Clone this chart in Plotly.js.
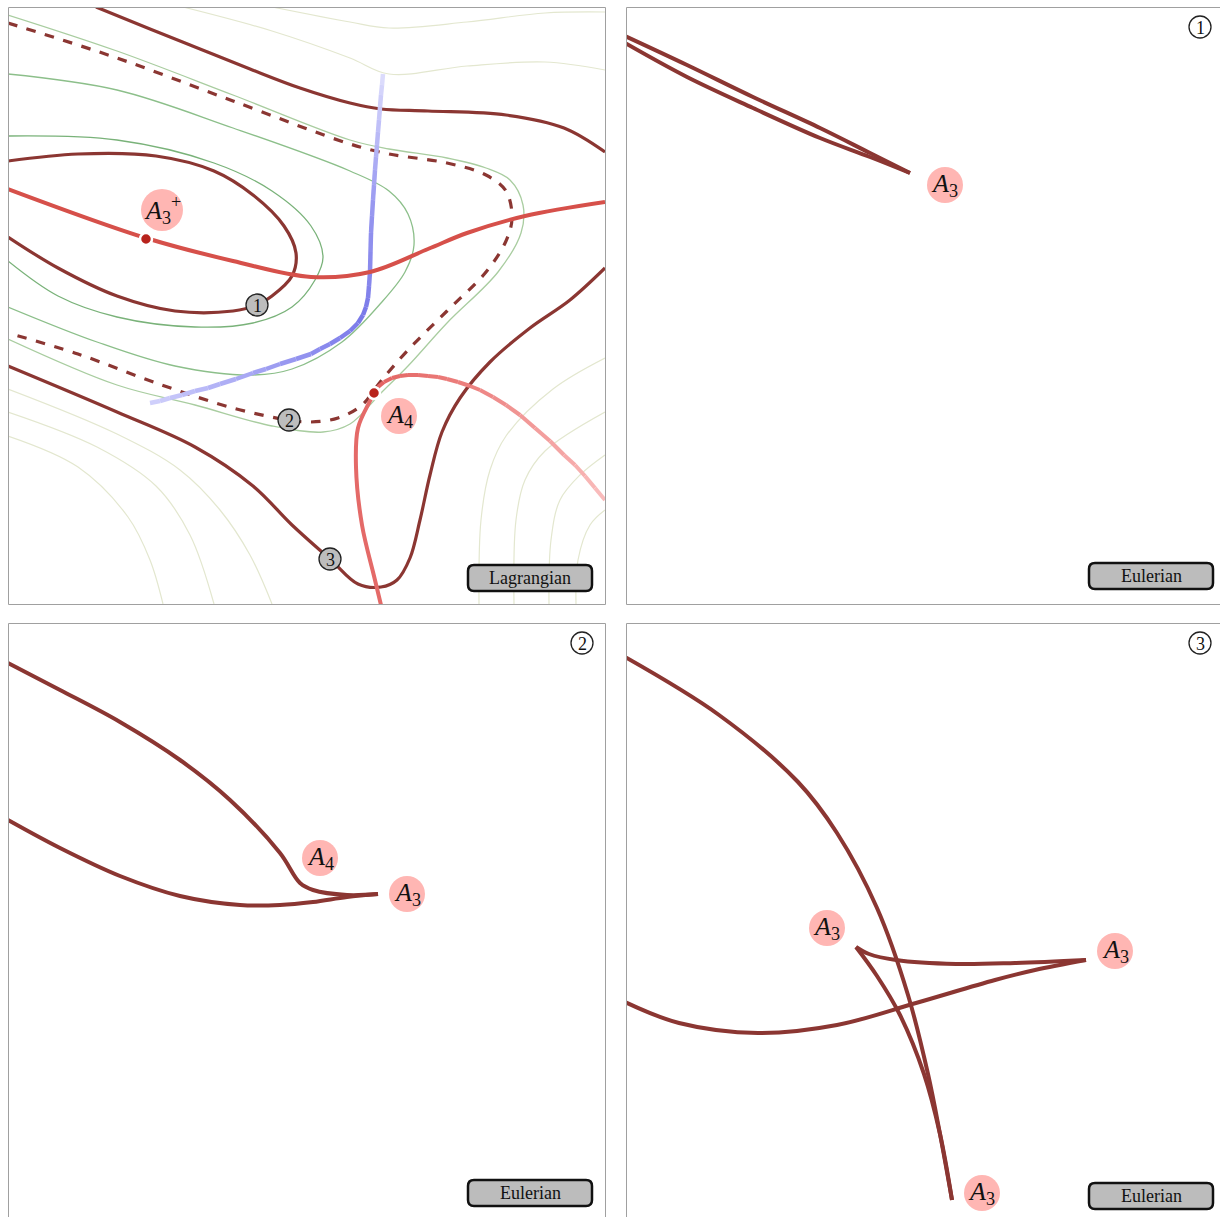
<!DOCTYPE html>
<html><head><meta charset="utf-8">
<script src="https://cdn.plot.ly/plotly-3.0.1.min.js"></script>
<style>html,body{margin:0;padding:0;background:#fff}</style>
</head><body><div id="chart" style="width:1220px;height:1217px"></div>
<script>
// ---- Panel 1 (Lagrangian) curves (x, y in panel pixel units) ----
const topSolidX = [96,150,200,250,300,350,381,428,506,564,605];
const topSolidY = [7,29,49,69,88,103,109,111,115,128,152];
const dashX = [8,117,233,350,389,447,486,506,512,506,486,447,408,381,362,338,311,288,233,156,78,8];
const dashY = [23,58,101,144,154,163,175,191,218,241,272,311,350,381,405,418,422,420,408,383,354,333];
const loopX = [8,78,156,214,253,284,296,292,272,257,233,175,117,58,8];
const loopY = [161,154,156,171,195,226,253,276,296,305,311,311,296,268,237];
const lowSolidX = [8,117,195,253,292,331,358,381,397,410,420,430,442,460,490,530,570,605];
const lowSolidY = [366,412,447,486,525,560,584,587,580,558,520,475,432,398,362,328,300,268];
const a3LineX = [8,146,233,311,370,428,467,525,605];
const a3LineY = [189,238,261,277,272,249,233,216,202];
const a4RightX = [374,378,384,392,400,408,418,428,438,447,458,470,480,493,506,520,535,550,564,575,585,595,605];
const a4RightY = [393,387,382,378,376,375,375,376,377,379,382,386,390,397,405,415,428,441,455,465,476,488,500];
const a4DownX = [374,370,358,356,362,374,381];
const a4DownY = [393,401,428,467,525,576,605];
const blueX = [383,382,381,380,379,378,377,376,375,374,373,372,371,370.5,370,369,368,366,363,358,350,340,330,320,311,296,280,266,253,236,220,208,195,182,170,160,150];
const blueY = [74,85,95,107,120,132,145,157,170,185,200,216,233,252,272,286,298,307,315,323,331,338,344,349,354,359,364,369,373,379,384,388,391,395,398,401,403];
const greenAX = [8,117,233,350,389,447,486,510,523,521,498,447,408,381,350,323,272,195,117,8];
const greenAY = [15,51,95,140,149,158,168,180,205,233,272,323,366,393,424,432,426,405,385,339];
const greenBX = [8,117,233,350,389,408,414,405,381,342,292,253,175,97,8];
const greenBY = [74,90,128,171,191,214,245,272,303,342,369,375,366,342,307];
const greenCX = [8,117,214,272,311,323,315,292,253,195,117,58,8];
const greenCY = [136,140,163,191,226,257,280,307,323,327,317,296,261];
const paleTop1X = [183,272,350,389,467,545,605];
const paleTop1Y = [7,31,58,74,66,62,70];
const paleTop2X = [272,350,389,467,545,605];
const paleTop2Y = [7,22,28,22,13,12];
const paleBL1X = [8,117,180,220,250,272];
const paleBL1Y = [389,434,470,510,555,604];
const paleBL2X = [8,97,156,190,214];
const paleBL2Y = [412,447,486,535,604];
const paleBL3X = [8,78,128,150,163];
const paleBL3Y = [436,467,517,560,604];
const paleBR1X = [479,481,490,506,553,605];
const paleBR1Y = [604,520,470,436,389,358];
const paleBR2X = [514,516,525,545,605];
const paleBR2Y = [604,520,480,451,412];
const paleBR3X = [549,551,560,580,605];
const paleBR3Y = [604,540,500,475,455];
const paleBR4X = [576,578,590,605];
const paleBR4Y = [604,560,525,510];
const dotX = [146,374];
const dotY = [239,393];
// ---- Panel 2 (Eulerian, caustic 1) ----
const e1UpperX = [625,687,753,820,870,910];
const e1UpperY = [36,65,97,128,153,173];
const e1LowerX = [625,687,753,820,870,910];
const e1LowerY = [43,77,108,138,157,173];
// ---- Panel 3 (Eulerian, caustic 2) ----
const e2UpperX = [8,60,120,180,230,280,300,313,347,378];
const e2UpperY = [663,690,722,760,800,853,883,890,895,894];
const e2LowerX = [8,60,120,180,240,280,313,347,378];
const e2LowerY = [820,848,876,896,905,905,902,897,894];
// ---- Panel 4 (Eulerian, caustic 3) ----
const e3BigX = [625,719,798,837,877,908,928,940,952];
const e3BigY = [657,715,782,833,908,995,1074,1134,1200];
const e3CuspDownX = [856,877,900,924,940,952];
const e3CuspDownY = [947,976,1015,1074,1134,1200];
const e3CuspRightX = [856,869,896,956,1015,1086];
const e3CuspRightY = [947,954,960,964,963,960];
const e3LowX = [625,679,758,837,916,995,1035,1086];
const e3LowY = [1002,1023,1033,1025,1003,980,970,960];
// ---- labels ----
const singLabels = [
  {ax:'1', x:162, y:210, r:21, text:'<i>A</i><sub>3</sub><sup>+</sup>'},
  {ax:'1', x:399, y:416, r:18, text:'<i>A</i><sub>4</sub>'},
  {ax:'2', x:945, y:185, r:18, text:'<i>A</i><sub>3</sub>'},
  {ax:'3', x:320, y:858, r:18, text:'<i>A</i><sub>4</sub>'},
  {ax:'3', x:407, y:894, r:18, text:'<i>A</i><sub>3</sub>'},
  {ax:'4', x:827, y:928, r:18, text:'<i>A</i><sub>3</sub>'},
  {ax:'4', x:1115, y:951, r:18, text:'<i>A</i><sub>3</sub>'},
  {ax:'4', x:982, y:1193, r:18, text:'<i>A</i><sub>3</sub>'}
];
const numMarks = [
  {ax:'1', x:257, y:305, n:'1', fill:'#bdbdbd'},
  {ax:'1', x:289, y:420, n:'2', fill:'#bdbdbd'},
  {ax:'1', x:330, y:559, n:'3', fill:'#bdbdbd'},
  {ax:'2', x:1200, y:27, n:'1', fill:'#ffffff'},
  {ax:'3', x:582, y:643, n:'2', fill:'#ffffff'},
  {ax:'4', x:1200, y:643, n:'3', fill:'#ffffff'}
];
const boxes = [
  {ax:'1', x0:468, x1:592, y0:565, y1:591, text:'Lagrangian'},
  {ax:'2', x0:1089, x1:1213, y0:563, y1:589, text:'Eulerian'},
  {ax:'3', x0:468, x1:592, y0:1180, y1:1206, text:'Eulerian'},
  {ax:'4', x0:1089, x1:1213, y0:1183, y1:1209, text:'Eulerian'}
];

const DARK = '#8b3632';
const SERIF = 'Liberation Serif, DejaVu Serif, serif';
const axMap = {'1':['x','y'],'2':['x2','y2'],'3':['x3','y3'],'4':['x4','y4']};
const traces = [];
function line(ax, X, Y, color, width, dash){
  traces.push({type:'scatter', mode:'lines', x:X, y:Y, xaxis:axMap[ax][0], yaxis:axMap[ax][1],
    line:{color:color, width:width, dash:dash||'solid', shape:'spline', smoothing:1},
    hoverinfo:'skip', showlegend:false, cliponaxis:true});
}
function mix(c0, c1, t){
  const a = c0.map((v,i)=>Math.round(v+(c1[i]-v)*t));
  return `rgb(${a[0]},${a[1]},${a[2]})`;
}
// curve with a colour gradient: one short piece per interval of read points
function gradLine(ax, X, Y, stops, width){
  const n = X.length - 1;
  for(let i=0;i<n;i++){
    const t = (i+0.5)/n;
    let k = 0; while(k < stops.length-2 && t > stops[k+1][0]) k++;
    const tt = (t - stops[k][0])/(stops[k+1][0]-stops[k][0]);
    const c = mix(stops[k][1], stops[k+1][1], Math.max(0,Math.min(1,tt)));
    traces.push({type:'scatter', mode:'lines', x:X.slice(i,i+2), y:Y.slice(i,i+2), xaxis:axMap[ax][0], yaxis:axMap[ax][1],
      line:{color:c, width:width, shape:'linear'}, hoverinfo:'skip', showlegend:false});
  }
}

// pale background contours
const PALE = '#e3e7cf';
[[paleTop1X,paleTop1Y],[paleTop2X,paleTop2Y],[paleBL1X,paleBL1Y],[paleBL2X,paleBL2Y],[paleBL3X,paleBL3Y],
 [paleBR1X,paleBR1Y],[paleBR2X,paleBR2Y],[paleBR3X,paleBR3Y],[paleBR4X,paleBR4Y]].forEach(p=>line('1',p[0],p[1],PALE,1.2));
// green contours
line('1', greenAX, greenAY, '#a9cda0', 1.3);
line('1', greenBX, greenBY, '#8cbf8a', 1.3);
line('1', greenCX, greenCY, '#79b279', 1.3);
// dark red level sets
line('1', topSolidX, topSolidY, DARK, 3.2);
line('1', dashX, dashY, DARK, 3.2, 'dash');
line('1', loopX, loopY, DARK, 3.2);
line('1', lowSolidX, lowSolidY, DARK, 3.2);
// blue curve with fading ends
gradLine('1', blueX, blueY, [[0,[222,222,253]],[0.3,[150,150,240]],[0.5,[120,120,232]],[0.65,[140,140,238]],[1,[210,210,252]]], 4.5);
// red singular curves
line('1', a3LineX, a3LineY, '#d6504a', 4);
line('1', a4DownX, a4DownY, '#e46a68', 4);
gradLine('1', a4RightX, a4RightY, [[0,[226,96,94]],[0.5,[236,128,126]],[1,[250,190,190]]], 4);
traces.push({type:'scatter', mode:'markers', x:dotX, y:dotY, xaxis:'x', yaxis:'y',
  marker:{color:'#b8231c', size:12, line:{color:'#ffffff', width:2.5}}, hoverinfo:'skip', showlegend:false});
// Eulerian caustics
line('2', e1UpperX, e1UpperY, DARK, 4);
line('2', e1LowerX, e1LowerY, DARK, 4);
line('3', e2UpperX, e2UpperY, DARK, 4);
line('3', e2LowerX, e2LowerY, DARK, 4);
line('4', e3BigX, e3BigY, DARK, 4);
line('4', e3CuspDownX, e3CuspDownY, DARK, 4);
line('4', e3CuspRightX, e3CuspRightY, DARK, 4);
line('4', e3LowX, e3LowY, DARK, 4);

// shapes & annotations
const shapes = [];
const annotations = [];
const W = 1220, H = 1217;
function px(x){return x/W;} function py(y){return 1-y/H;}
function frameLine(x0,y0,x1,y1){
  shapes.push({type:'line', xref:'paper', yref:'paper', x0:px(x0), y0:py(y0), x1:px(x1), y1:py(y1),
    line:{color:'#a0a0a0', width:1}, layer:'above'});
}
frameLine(8.5,7.5,605.5,7.5); frameLine(8.5,7.5,8.5,604.5); frameLine(605.5,7.5,605.5,604.5); frameLine(8.5,604.5,605.5,604.5);
frameLine(626.5,7.5,1220,7.5); frameLine(626.5,7.5,626.5,604.5); frameLine(626.5,604.5,1220,604.5);
frameLine(8.5,623.5,605.5,623.5); frameLine(8.5,623.5,8.5,1217); frameLine(605.5,623.5,605.5,1217);
frameLine(626.5,623.5,1220,623.5); frameLine(626.5,623.5,626.5,1217);

singLabels.forEach(l=>{
  const [xa,ya] = axMap[l.ax];
  shapes.push({type:'circle', xref:xa, yref:ya, x0:l.x-l.r, x1:l.x+l.r, y0:l.y-l.r, y1:l.y+l.r,
    fillcolor:'#ffb6b3', line:{width:0}, layer:'above'});
  annotations.push({xref:xa, yref:ya, x:l.x, y:l.y, text:l.text, showarrow:false,
    font:{family:SERIF, size:26, color:'#111'}, xanchor:'center', yanchor:'middle'});
});
numMarks.forEach(m=>{
  const [xa,ya] = axMap[m.ax];
  shapes.push({type:'circle', xref:xa, yref:ya, x0:m.x-11, x1:m.x+11, y0:m.y-11, y1:m.y+11,
    fillcolor:m.fill, line:{color:'#222', width:1.3}, layer:'above'});
  annotations.push({xref:xa, yref:ya, x:m.x, y:m.y+1, text:m.n, showarrow:false,
    font:{family:SERIF, size:18, color:'#111'}, xanchor:'center', yanchor:'middle'});
});
boxes.forEach(b=>{
  const [xa,ya] = axMap[b.ax];
  const r = 6;
  const path = `M ${b.x0+r},${b.y0} L ${b.x1-r},${b.y0} Q ${b.x1},${b.y0} ${b.x1},${b.y0+r} L ${b.x1},${b.y1-r} Q ${b.x1},${b.y1} ${b.x1-r},${b.y1} L ${b.x0+r},${b.y1} Q ${b.x0},${b.y1} ${b.x0},${b.y1-r} L ${b.x0},${b.y0+r} Q ${b.x0},${b.y0} ${b.x0+r},${b.y0} Z`;
  shapes.push({type:'path', xref:xa, yref:ya, path:path, fillcolor:'#bcbcbc', line:{color:'#111', width:2.5}, layer:'above'});
  annotations.push({xref:xa, yref:ya, x:(b.x0+b.x1)/2, y:(b.y0+b.y1)/2, text:b.text, showarrow:false,
    font:{family:SERIF, size:18, color:'#111'}, xanchor:'center', yanchor:'middle'});
});

function axis(domain, range){
  return {domain:domain, range:range, showgrid:false, zeroline:false, showticklabels:false, ticks:'',
    showline:false, fixedrange:true};
}
const layout = {
  width:W, height:H, margin:{l:0,r:0,t:0,b:0}, paper_bgcolor:'#fff', plot_bgcolor:'rgba(0,0,0,0)',
  showlegend:false,
  xaxis: axis([px(8), px(605)], [8,605]),
  yaxis: axis([py(604), py(7)], [604,7]),
  xaxis2: axis([px(626), 1], [626,1220]),
  yaxis2: axis([py(604), py(7)], [604,7]),
  xaxis3: axis([px(8), px(605)], [8,605]),
  yaxis3: axis([0, py(623)], [1217,623]),
  xaxis4: axis([px(626), 1], [626,1220]),
  yaxis4: axis([0, py(623)], [1217,623]),
  shapes:shapes, annotations:annotations
};
Plotly.newPlot('chart', traces, layout, {staticPlot:true, displayModeBar:false});
</script></body></html>
